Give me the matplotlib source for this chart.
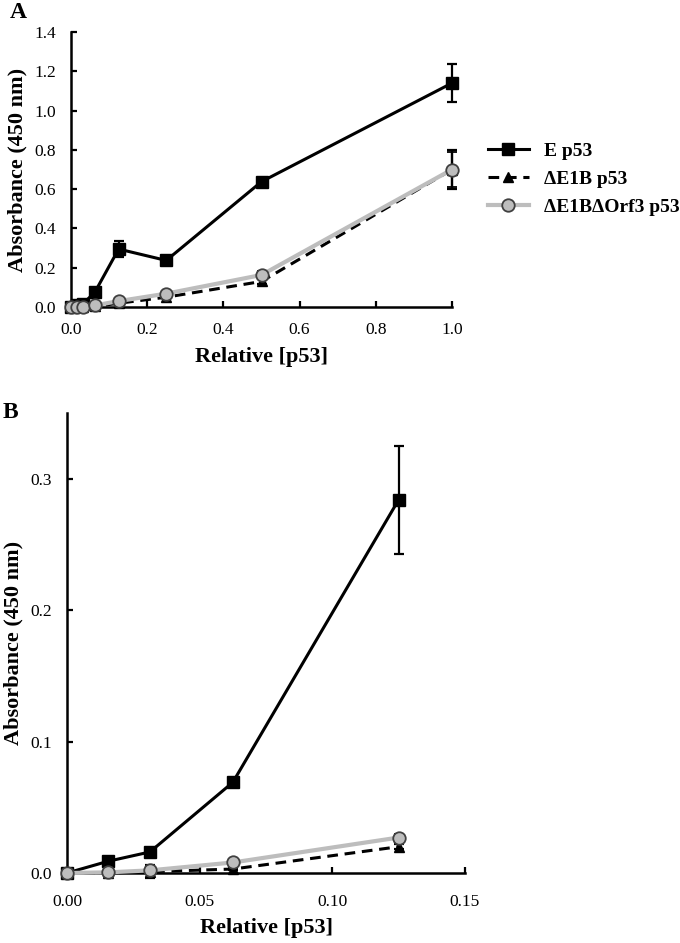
import matplotlib
matplotlib.use("Agg")
import matplotlib.pyplot as plt
from matplotlib.ticker import MultipleLocator, FormatStrFormatter

plt.rcParams['font.family'] = ['Liberation Serif', 'DejaVu Serif']

# relative p53 concentrations
x_a = [0, 0.015625, 0.03125, 0.0625, 0.125, 0.25, 0.5, 1.0]
x_b = [0, 0.015625, 0.03125, 0.0625, 0.125]

# panel A, absorbance at 450 nm
e_a = [0, 0.009, 0.016, 0.075, 0.295, 0.237, 0.638, 1.14]
e_a_err = [0, 0.001, 0.002, 0.003, 0.04, 0.015, 0.02, 0.095]
d_a = [0, 0, 0.001, 0.003, 0.019, 0.05, 0.13, 0.70]
d_a_err = [0, 0, 0.003, 0.001, 0.003, 0.005, 0.015, 0.10]
o_a = [0, 0.001, 0.002, 0.008, 0.03, 0.068, 0.163, 0.70]
o_a_err = [0, 0, 0.001, 0.002, 0.004, 0.01, 0.02, 0.09]

# panel B, zoom on the low concentrations
e_b = [0, 0.009, 0.016, 0.069, 0.284]
e_b_err = [0, 0.001, 0.001, 0.002, 0.041]
d_b = [0, 0, 0.001, 0.003, 0.02]
d_b_err = [0, 0, 0.005, 0.0005, 0.002]
o_b = [0, 0.0005, 0.002, 0.008, 0.027]
o_b_err = [0, 0, 0.001, 0.001, 0.003]

labels = ["E p53", "\u0394E1B p53", "\u0394E1B\u0394Orf3 p53"]


def draw_series(ax, x, e, e_err, d, d_err, o, o_err):
    common = dict(capsize=3.5, elinewidth=1.6, capthick=1.6, clip_on=False)
    h1 = ax.errorbar(x, e, yerr=e_err, color='black', lw=2.2, marker='s', ms=8.5,
                     mfc='black', mec='black', ecolor='black', zorder=4, **common)
    h2 = ax.errorbar(x, d, yerr=d_err, color='black', lw=2.2, ls=(0, (3.5, 2.2)), marker='^',
                     ms=7.5, mfc='black', mec='black', ecolor='black', zorder=5, **common)
    h3 = ax.errorbar(x, o, yerr=o_err, color='#bdbdbd', lw=3, marker='o', ms=9,
                     mfc='#bdbdbd', mec='#404040', mew=1.3, ecolor='black', zorder=6, **common)
    for h in (h1, h2, h3):
        h.lines[0].set_clip_on(False)
    return h1, h2, h3


def style_axis(ax, xpad):
    for side in ('top', 'right'):
        ax.spines[side].set_visible(False)
    for side in ('left', 'bottom'):
        ax.spines[side].set_linewidth(1.8)
    ax.tick_params(direction='in', length=4, width=1.6, labelsize=12.5)
    ax.tick_params(axis='y', pad=11)
    ax.tick_params(axis='x', pad=xpad)
    ax.set_xlabel("Relative [p53]", fontsize=16, fontweight='bold', labelpad=6)
    ax.set_ylabel("Absorbance (450 nm)", fontsize=16, fontweight='bold', labelpad=5)


fig = plt.figure(figsize=(6.8, 9.43), dpi=100)

ax_a = fig.add_axes([71 / 680, 1 - 307 / 943, 381 / 680, 275 / 943])
handles = draw_series(ax_a, x_a, e_a, e_a_err, d_a, d_a_err, o_a, o_a_err)
ax_a.set_xlim(0, 1.0)
ax_a.set_ylim(0, 1.4)
ax_a.xaxis.set_major_locator(MultipleLocator(0.2))
ax_a.yaxis.set_major_locator(MultipleLocator(0.2))
ax_a.xaxis.set_major_formatter(FormatStrFormatter('%.1f'))
ax_a.yaxis.set_major_formatter(FormatStrFormatter('%.1f'))
style_axis(ax_a, 11)

leg_handles = [h.lines[0] for h in handles]
ax_a.legend(leg_handles, labels, loc='center left', bbox_to_anchor=(488 / 680, 1 - 179 / 943),
            bbox_transform=fig.transFigure, frameon=False, borderpad=0, borderaxespad=0,
            handlelength=2.1, handletextpad=0.8, labelspacing=0.55,
            prop={'size': 14, 'weight': 'bold'})

ax_b = fig.add_axes([67 / 680, 1 - 873 / 943, 398 / 680, 460 / 943])
draw_series(ax_b, x_b, e_b, e_b_err, d_b, d_b_err, o_b, o_b_err)
ax_b.set_xlim(0, 0.15)
ax_b.set_ylim(0, 0.35)
ax_b.set_xticks([0, 0.05, 0.10, 0.15])
ax_b.set_yticks([0, 0.1, 0.2, 0.3])
ax_b.xaxis.set_major_formatter(FormatStrFormatter('%.2f'))
ax_b.yaxis.set_major_formatter(FormatStrFormatter('%.1f'))
style_axis(ax_b, 15)

fig.text(10 / 680, 1 - 13 / 943, "A", fontsize=17, fontweight='bold', va='center', ha='left')
fig.text(3 / 680, 1 - 413 / 943, "B", fontsize=17, fontweight='bold', va='center', ha='left')

fig.savefig("out.png", dpi=100)
